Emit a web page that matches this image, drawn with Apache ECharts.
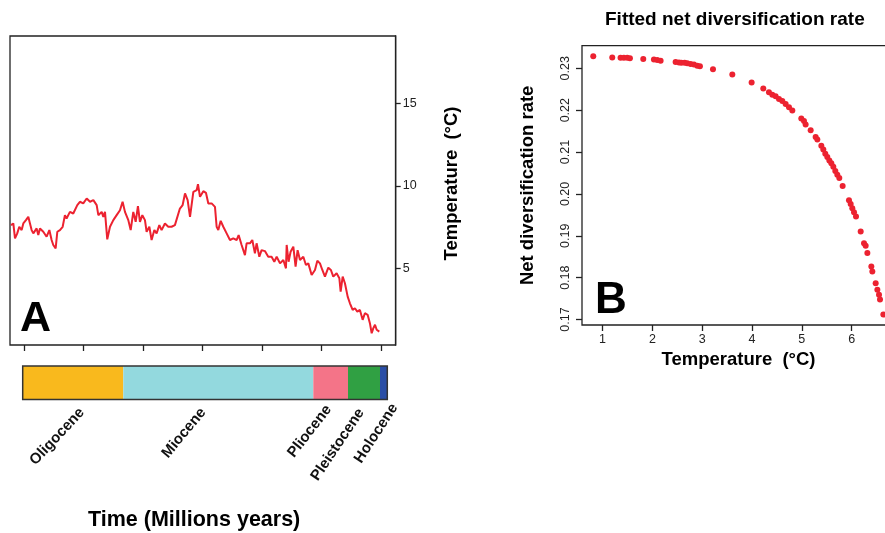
<!DOCTYPE html>
<html>
<head>
  <meta charset="UTF-8">
  <title>Temperature and net diversification</title>
  <script src="https://cdn.jsdelivr.net/npm/echarts@6/dist/echarts.min.js"></script>
  <style>
    html, body { margin: 0; padding: 0; background: #fff; }
    #chart { width: 885px; height: 533px; }
  </style>
</head>
<body>
<div id="chart"></div>
<script>
// panel A: temperature curve (age in Ma, temperature in °C)
var ageMa = [31.12,30.92,30.78,30.59,30.42,30.22,30.08,29.86,29.66,29.52,
  29.38,29.24,28.96,28.82,28.68,28.40,28.12,27.89,27.70,27.56,
  27.36,27.22,27.00,26.77,26.58,26.44,26.16,25.88,25.54,25.32,
  25.04,24.75,24.47,24.19,23.91,23.77,23.49,23.35,23.21,23.02,
  22.79,22.51,22.23,21.95,21.73,21.53,21.25,21.05,20.83,20.63,
  20.44,20.27,20.07,19.85,19.71,19.48,19.29,19.06,18.87,18.64,
  18.45,18.17,17.89,17.61,17.33,17.19,16.91,16.68,16.48,16.26,
  16.06,15.78,15.50,15.39,15.22,14.94,14.72,14.52,14.24,13.96,
  13.82,13.68,13.48,13.26,12.98,12.70,12.42,12.14,11.97,11.72,
  11.44,11.30,11.02,10.82,10.60,10.46,10.23,10.04,9.76,9.48,
  9.20,8.97,8.77,8.49,8.21,7.99,7.93,7.77,7.60,7.37,
  7.18,7.01,6.81,6.53,6.31,6.11,5.83,5.55,5.35,5.13,
  4.93,4.71,4.43,4.21,4.01,3.73,3.50,3.39,3.22,3.03,
  2.80,2.61,2.38,2.19,1.99,1.77,1.54,1.35,1.12,0.93,
  0.78,0.64,0.50,0.36,0.14];
var tempC = [7.63,7.73,6.83,7.13,7.53,7.33,7.73,7.93,8.13,7.73,
  7.33,7.13,7.43,7.03,7.43,7.23,6.93,7.33,6.73,6.43,
  6.22,7.23,7.33,7.53,8.23,8.03,8.43,8.33,8.84,9.04,
  8.94,9.24,9.04,9.14,8.84,8.23,8.43,8.13,8.43,6.77,
  7.53,7.93,8.23,8.53,9.04,8.43,7.93,7.33,8.43,7.83,
  8.78,7.83,8.23,7.93,7.23,7.53,6.73,7.33,7.13,7.63,
  7.33,7.73,7.53,7.53,7.63,7.53,8.63,8.84,9.54,9.14,
  8.13,9.64,9.74,10.10,9.34,9.68,9.58,8.94,8.94,8.73,
  7.53,7.33,7.89,7.53,7.13,6.73,6.83,6.73,7.03,6.43,
  5.82,6.53,6.53,6.73,5.92,6.53,5.72,6.12,6.06,5.72,
  5.72,5.42,5.72,5.32,5.52,5.02,6.43,5.42,6.02,6.33,
  5.12,6.12,5.52,5.72,5.22,5.32,4.62,4.92,5.48,5.32,
  4.92,4.52,5.06,4.92,4.52,4.72,4.42,3.61,4.52,4.12,
  3.31,2.91,2.51,2.61,2.41,2.51,1.91,2.31,2.21,1.71,
  1.10,1.41,1.61,1.31,1.20];
var ageTicks = [0, 5, 10, 15, 20, 25, 30];
var tempTicks = [5, 10, 15];

// epoch band under panel A (schematic lengths, as drawn)
var epochNames = ['Oligocene', 'Miocene', 'Pliocene', 'Pleistocene', 'Holocene'];
var epochSpan = [100.6, 190, 34.7, 32, 7.3];

// panel B: fitted net diversification rate vs temperature
var tempB = [0.813,1.194,1.361,1.428,1.495,1.549,1.817,2.031,2.098,2.165,
  2.466,2.533,2.580,2.647,2.700,2.767,2.834,2.901,2.954,3.216,
  3.604,3.992,4.226,4.340,4.407,4.474,4.541,4.608,4.675,4.742,
  4.809,4.989,5.043,5.076,5.177,5.277,5.311,5.391,5.431,5.471,
  5.511,5.552,5.592,5.632,5.672,5.712,5.752,5.819,5.946,5.980,
  6.013,6.047,6.087,6.181,6.248,6.281,6.315,6.395,6.415,6.482,
  6.516,6.549,6.569,6.636];
var rateB = [0.2329,0.2326,0.2325,0.2325,0.2325,0.2324,0.2322,0.2321,0.2320,0.2318,
  0.2315,0.2314,0.2313,0.2313,0.2312,0.2310,0.2309,0.2306,0.2305,0.2298,
  0.2285,0.2266,0.2252,0.2243,0.2237,0.2233,0.2227,0.2222,0.2215,0.2207,
  0.2199,0.2180,0.2174,0.2166,0.2152,0.2136,0.2130,0.2115,0.2106,0.2096,
  0.2088,0.2080,0.2073,0.2065,0.2055,0.2046,0.2038,0.2019,0.1985,0.1976,
  0.1966,0.1956,0.1946,0.1910,0.1882,0.1876,0.1859,0.1827,0.1815,0.1787,
  0.1771,0.1759,0.1748,0.1712];
var tempBTicks = [1, 2, 3, 4, 5, 6];
var rateTicks = [0.17, 0.18, 0.19, 0.20, 0.21, 0.22, 0.23];

// styling
var FONT = '"Liberation Sans", Arial, Helvetica, sans-serif';
var RED = '#ec2230';
var INK = '#222';
var epochColors = ['#f9b91d', '#93d9de', '#f47488', '#30a043', '#2a4ea6'];
var epochRotate = [47, 50, 52, 56, 57];
var epochLabelShift = [[9, 10.5], [-15, 10.5], [-2, 7.5], [-3, 10.5], [11, 5.5]];

// label offset is applied in the rotated label frame, so turn a screen shift into it
function localOffset(shift, deg) {
  var t = deg * Math.PI / 180;
  var dx = shift[0], dy = shift[1];
  return [dx * Math.cos(t) - dy * Math.sin(t), dx * Math.sin(t) + dy * Math.cos(t)];
}

var tickLabel = { fontSize: 12.5, color: INK, fontFamily: FONT };
var axisName = { fontSize: 18.5, fontWeight: 'bold', color: '#000', fontFamily: FONT };

var chart = echarts.init(document.getElementById('chart'));

var epochSeries = epochNames.map(function (name, i) {
  return {
    type: 'bar',
    name: name,
    xAxisIndex: 2,
    yAxisIndex: 2,
    stack: 'epoch',
    barWidth: '100%',
    silent: true,
    data: [epochSpan[i]],
    itemStyle: { color: epochColors[i] },
    label: {
      show: true,
      position: 'bottom',
      distance: 0,
      formatter: name,
      rotate: epochRotate[i],
      align: 'right',
      verticalAlign: 'middle',
      offset: localOffset(epochLabelShift[i], epochRotate[i]),
      fontSize: 15,
      fontWeight: 'bold',
      color: '#111',
      fontFamily: FONT
    }
  };
});

var option = {
  animation: false,
  backgroundColor: '#fff',
  textStyle: { fontFamily: FONT },
  title: [
    { text: 'A', left: 20, top: 298, padding: 0, textStyle: { fontSize: 43, fontWeight: 'bold', color: '#000', fontFamily: FONT } },
    { text: 'B', left: 595, top: 279, padding: 0, textStyle: { fontSize: 44, fontWeight: 'bold', color: '#000', fontFamily: FONT } },
    { text: 'Fitted net diversification rate', left: 605, top: 10, padding: 0, textStyle: { fontSize: 19, fontWeight: 'bold', color: '#000', fontFamily: FONT } },
    { text: 'Time (Millions years)', left: 88, top: 509, padding: 0, textStyle: { fontSize: 21.5, fontWeight: 'bold', color: '#000', fontFamily: FONT } }
  ],
  grid: [
    { left: 10, top: 36, width: 385.7, height: 309, show: true, borderColor: INK, borderWidth: 1.3, outerBoundsMode: 'none' },
    { left: 582, top: 45.7, width: 313, height: 279.3, show: true, borderColor: INK, borderWidth: 1.3, outerBoundsMode: 'none' },
    { left: 22.7, top: 366, width: 364.6, height: 33.5, show: true, borderColor: '#333', borderWidth: 1.5, z: 5, outerBoundsMode: 'none' }
  ],
  xAxis: [
    {
      gridIndex: 0, type: 'value', inverse: true, min: -1.24, max: 31.2,
      axisLine: { show: false, onZero: false },
      axisTick: { show: true, customValues: ageTicks, length: 6, lineStyle: { color: INK, width: 1.3 } },
      axisLabel: { show: false },
      splitLine: { show: false }
    },
    {
      gridIndex: 1, type: 'value', min: 0.587, max: 6.87,
      name: 'Temperature  (°C)', nameLocation: 'middle', nameGap: 24, nameTextStyle: axisName,
      axisLine: { show: false, onZero: false },
      axisTick: { show: true, customValues: tempBTicks, length: 6, lineStyle: { color: INK, width: 1.3 } },
      axisLabel: Object.assign({ customValues: tempBTicks, margin: 8 }, tickLabel),
      splitLine: { show: false }
    },
    {
      gridIndex: 2, type: 'value', min: 0,
      max: epochSpan.reduce(function (a, b) { return a + b; }, 0),
      show: false
    }
  ],
  yAxis: [
    {
      gridIndex: 0, type: 'value', position: 'right', min: 0.39, max: 19.05,
      name: 'Temperature  (°C)', nameLocation: 'middle', nameGap: 47, nameRotate: 90,
      nameTextStyle: Object.assign({ padding: [0, 0, 0, 14] }, axisName),
      axisLine: { show: true, onZero: false, lineStyle: { color: INK, width: 1.3 } },
      axisTick: { show: true, customValues: tempTicks, length: 5, lineStyle: { color: INK, width: 1.3 } },
      axisLabel: Object.assign({ customValues: tempTicks, margin: 7 }, tickLabel),
      splitLine: { show: false }
    },
    {
      gridIndex: 1, type: 'value', min: 0.1687, max: 0.2354,
      name: 'Net diversification rate', nameLocation: 'middle', nameGap: 45, nameRotate: 90,
      nameTextStyle: axisName,
      axisLine: { show: false, onZero: false },
      axisTick: { show: true, customValues: rateTicks, length: 6, lineStyle: { color: INK, width: 1.3 } },
      axisLabel: Object.assign({
        customValues: rateTicks, margin: 10, rotate: 90,
        formatter: function (v) { return v.toFixed(2); }
      }, tickLabel),
      splitLine: { show: false }
    },
    {
      gridIndex: 2, type: 'category', data: ['epoch'], show: false
    }
  ],
  series: [
    {
      type: 'line',
      xAxisIndex: 0,
      yAxisIndex: 0,
      showSymbol: false,
      silent: true,
      data: ageMa.map(function (a, i) { return [a, tempC[i]]; }),
      lineStyle: { color: RED, width: 2 }
    },
    {
      type: 'scatter',
      xAxisIndex: 1,
      yAxisIndex: 1,
      silent: true,
      symbol: 'circle',
      symbolSize: 6,
      data: tempB.map(function (t, i) { return [t, rateB[i]]; }),
      itemStyle: { color: RED, opacity: 1 }
    }
  ].concat(epochSeries)
};

chart.setOption(option);
</script>
</body>
</html>
